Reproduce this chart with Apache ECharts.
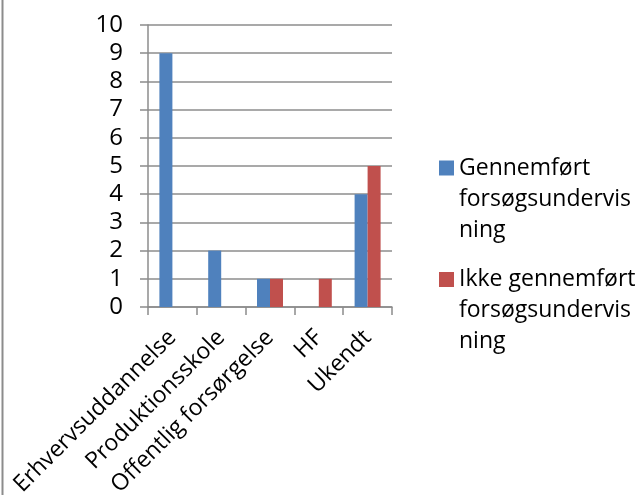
<!DOCTYPE html>
<html>
<head>
<meta charset="utf-8">
<script src="https://cdn.jsdelivr.net/npm/echarts@6/dist/echarts.min.js"></script>
<style>
  html, body { margin: 0; padding: 0; background: #fff; }
  #chart { width: 638px; height: 495px; }
</style>
</head>
<body>
<div id="chart"></div>
<script>
// Categories and counts per group
const categories = ['Erhvervsuddannelse', 'Produktionsskole', 'Offentlig forsørgelse', 'HF', 'Ukendt'];
const seriesNames = ['Gennemført\nforsøgsundervis\nning', 'Ikke gennemført\nforsøgsundervis\nning'];
const completed = [9, 2, 1, 0, 4];
const notCompleted = [0, 0, 1, 1, 5];
const yTicks = { min: 0, max: 10, interval: 1 };

const FONT = 'Open Sans';
const LH = 31;
const gridColor = '#8c8c8c';

const chart = echarts.init(document.getElementById('chart'), null, { renderer: 'canvas' });
chart.setOption({
  backgroundColor: '#ffffff',
  animation: false,
  textStyle: { fontFamily: FONT },
  grid: {
    left: 148, right: 246, top: 25, bottom: 188,
    containLabel: false,
    outerBoundsMode: 'none'
  },
  legend: {
    orient: 'vertical',
    left: 434,
    // two blank lines before each name keep the swatch level with the first line
    top: 163 - 2.5 * LH,
    icon: 'rect',
    itemWidth: 15,
    itemHeight: 15,
    itemGap: 111.5 - 5 * LH,
    formatter: name => '\n\n' + name,
    textStyle: {
      fontFamily: FONT,
      fontSize: 23,
      color: '#000',
      lineHeight: LH
    },
    data: seriesNames
  },
  xAxis: {
    type: 'category',
    data: categories,
    axisLine: { lineStyle: { color: gridColor, width: 1.5 } },
    axisTick: { show: true, length: 8, lineStyle: { color: gridColor, width: 1.5 } },
    axisLabel: {
      rotate: 45,
      interval: 0,
      margin: 27,
      fontFamily: FONT,
      fontSize: 23,
      color: '#000'
    }
  },
  yAxis: {
    type: 'value',
    min: yTicks.min,
    max: yTicks.max,
    interval: yTicks.interval,
    axisLine: { show: true, lineStyle: { color: gridColor, width: 1.5 } },
    axisTick: { show: true, inside: false, length: 8, lineStyle: { color: gridColor, width: 1.5 } },
    splitLine: { show: true, lineStyle: { color: gridColor, width: 1.5 } },
    axisLabel: { margin: 25, fontFamily: FONT, fontSize: 24, color: '#000' }
  },
  series: [
    {
      name: seriesNames[0],
      type: 'bar',
      data: completed,
      barWidth: 13,
      barGap: '0%',
      itemStyle: { color: '#4F81BD' }
    },
    {
      name: seriesNames[1],
      type: 'bar',
      data: notCompleted,
      barWidth: 13,
      barGap: '0%',
      itemStyle: { color: '#C0504D' }
    }
  ],
  graphic: [
    {
      type: 'line',
      shape: { x1: 2.5, y1: 0, x2: 2.5, y2: 495 },
      style: { stroke: '#8c8c8c', lineWidth: 2 }
    }
  ]
});
</script>
</body>
</html>
